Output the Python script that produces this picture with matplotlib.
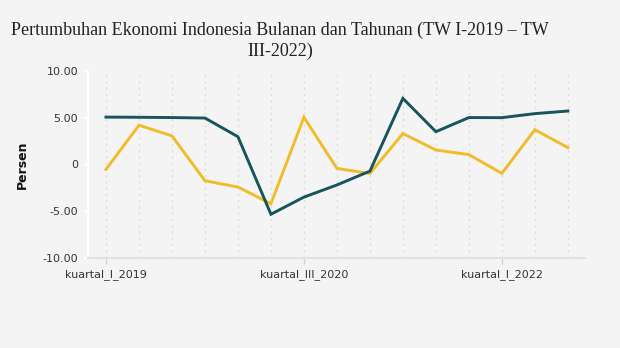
import matplotlib
matplotlib.use("Agg")
import matplotlib.pyplot as plt

quarters = ["kuartal_I_2019", "kuartal_II_2019", "kuartal_III_2019", "kuartal_IV_2019",
            "kuartal_I_2020", "kuartal_II_2020", "kuartal_III_2020", "kuartal_IV_2020",
            "kuartal_I_2021", "kuartal_II_2021", "kuartal_III_2021", "kuartal_IV_2021",
            "kuartal_I_2022", "kuartal_II_2022", "kuartal_III_2022"]
yoy = [5.07, 5.05, 5.02, 4.97, 2.97, -5.32, -3.49, -2.19, -0.71, 7.07, 3.51, 5.02, 5.01, 5.44, 5.72]
qoq = [-0.52, 4.20, 3.06, -1.74, -2.41, -4.19, 5.05, -0.42, -0.96, 3.31, 1.55, 1.06, -0.95, 3.72, 1.81]
shown_ticks = ["kuartal_I_2019", "kuartal_III_2020", "kuartal_I_2022"]
yticks = [-10, -5, 0, 5, 10]
ytick_labels = ["-10.00", "-5.00", "0", "5.00", "10.00"]

bg = "#f4f4f4"
fig = plt.figure(figsize=(6.2, 3.48), dpi=100, facecolor=bg)
ax = fig.add_axes([88/620, 1-258/348, (585-88)/620, (258-71)/348], facecolor=bg)

x = list(range(len(quarters)))
for xi in x:
    ax.axvline(xi, color="#dcdcdc", linestyle=(0, (1.5, 3)), linewidth=1, zorder=0)

ax.plot(x, qoq, color="#f0bc2a", linewidth=2.1, solid_joinstyle="miter", zorder=2)
ax.plot(x, yoy, color="#17545b", linewidth=2.1, solid_joinstyle="miter", zorder=3)

ax.set_xlim(-0.545, 14.52)
ax.set_ylim(-10, 10)
ax.set_yticks(yticks)
ax.set_yticklabels(ytick_labels)
tick_pos = [quarters.index(t) for t in shown_ticks]
ax.set_xticks(tick_pos)
ax.set_xticklabels(shown_ticks)

for s in ["top", "right"]:
    ax.spines[s].set_visible(False)
ax.spines["left"].set_color("white")
ax.spines["left"].set_linewidth(1.5)
ax.spines["bottom"].set_color("#e2e2e2")
ax.spines["bottom"].set_linewidth(1.5)

ax.tick_params(axis="y", colors="white", labelcolor="#333333", length=3, width=1.5, labelsize=8, pad=4)
ax.tick_params(axis="x", colors="#d0d0d0", labelcolor="#333333", length=4, width=1, labelsize=8, pad=4)
for lab in ax.get_xticklabels() + ax.get_yticklabels():
    lab.set_family("DejaVu Sans")

ax.set_ylabel("Persen", fontsize=9, fontweight="bold", color="#111111", labelpad=10)

fig.text(280/620, 1-41/348, "Pertumbuhan Ekonomi Indonesia Bulanan dan Tahunan (TW I-2019 – TW\nIII-2022)",
         ha="center", va="center", fontsize=13, family="Liberation Serif", color="#222222",
         linespacing=1.25)

fig.savefig("out.png", dpi=100, facecolor=bg)
